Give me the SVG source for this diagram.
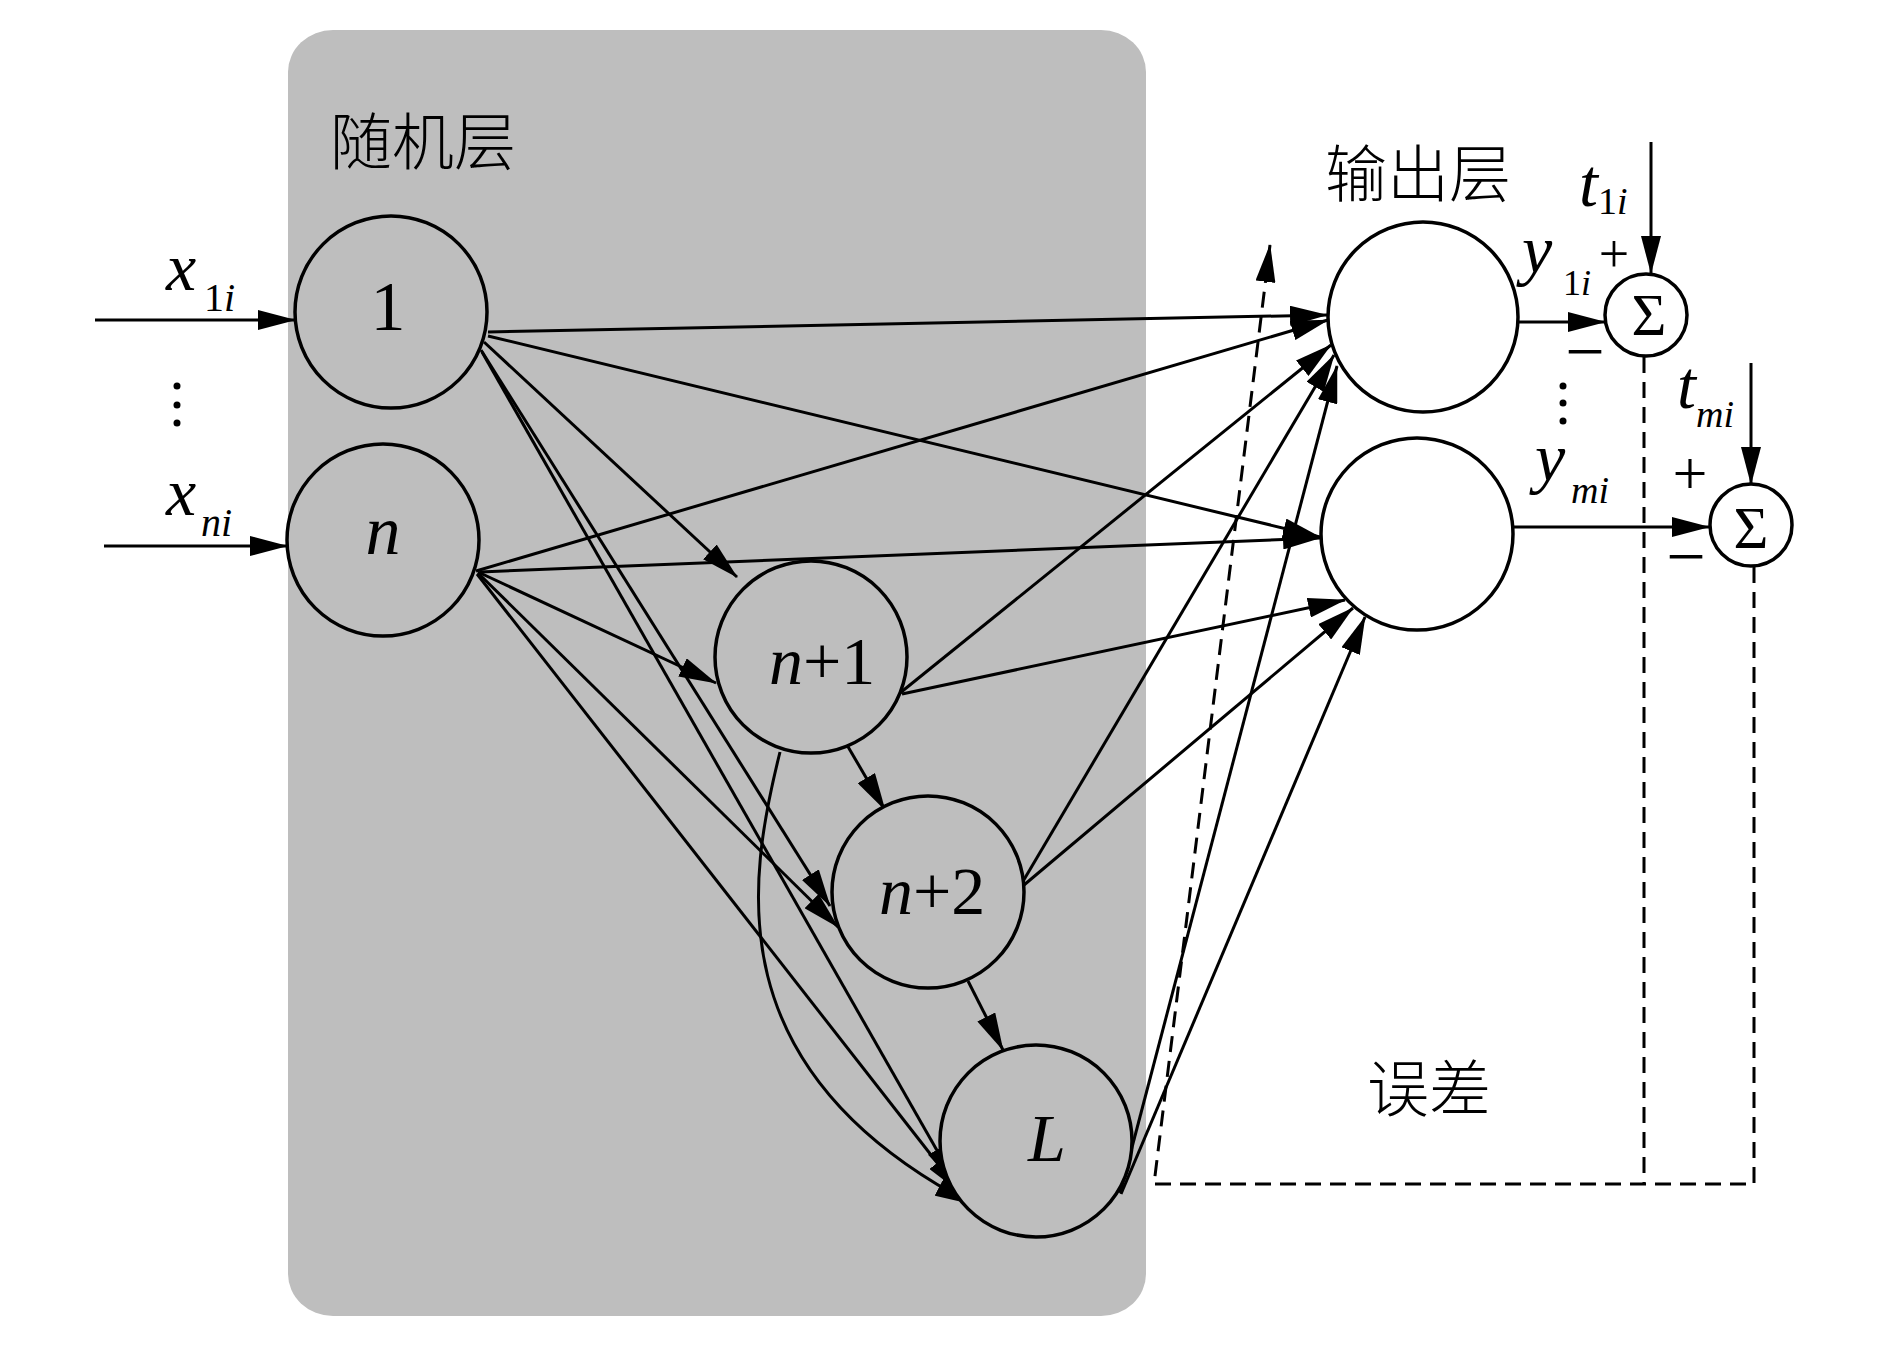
<svg xmlns="http://www.w3.org/2000/svg" width="1890" height="1346" viewBox="0 0 1890 1346">
<defs>
<marker id="ah" viewBox="0 0 38 20" markerWidth="38" markerHeight="20" refX="37" refY="10" orient="auto" markerUnits="userSpaceOnUse">
<path d="M0,0 L38,10 L0,20 Z" fill="#000"/>
</marker>
<style>
.ln{fill:none;stroke:#000;stroke-width:3;marker-end:url(#ah)}
.ds{fill:none;stroke:#000;stroke-width:3;stroke-dasharray:16 9}
.hn{fill:#bebebe;stroke:#000;stroke-width:3.5}
.on{fill:#fff;stroke:#000;stroke-width:3.5}
.cj{font-family:"Noto Sans CJK SC",sans-serif;font-size:62px;font-weight:300;fill:#000}
.mt{font-family:"Liberation Serif","Times New Roman",serif;fill:#000}
.it{font-style:italic}
</style>
</defs>
<rect x="0" y="0" width="1890" height="1346" fill="#fff"/>
<rect id="random-layer" x="288" y="30" width="858" height="1286" rx="45" ry="42" fill="#bebebe"/>
<text class="cj" x="330" y="165">随机层</text>
<text class="cj" x="1325" y="197">输出层</text>
<text class="cj" x="1367" y="1112">误差</text>

<g id="connectors">
<path class="ln" d="M95,320 L295,320"/>
<path class="ln" d="M104,546 L287,546"/>
<path class="ln" d="M488,332 L1327,315"/>
<path class="ln" d="M488,336 L1320,537"/>
<path class="ln" d="M484,342 L737,577"/>
<path class="ln" d="M481,350 L830,906"/>
<path class="ln" d="M482,352 L955,1182"/>
<path class="ln" d="M476,571 L1328,320"/>
<path class="ln" d="M480,572 L1320,538"/>
<path class="ln" d="M478,572 L716,683"/>
<path class="ln" d="M478,573 L838,927"/>
<path class="ln" d="M477,574 L960,1192"/>
<path class="ln" d="M900,693 L1331,345"/>
<path class="ln" d="M902,694 L1345,600"/>
<path class="ln" d="M847,745 L885,810"/>
<path class="ln" d="M780,752 C748,880 715,1070 972,1204"/>
<path class="ln" d="M1022,883 L1334,355"/>
<path class="ln" d="M1024,885 L1353,608"/>
<path class="ln" d="M968,981 L1003,1050"/>
<path class="ln" d="M1120,1193 L1337,366"/>
<path class="ln" d="M1121,1194 L1365,617"/>
<path class="ln" d="M1518,322 L1605,322"/>
<path class="ln" d="M1513,527 L1709,527"/>
<path class="ln" d="M1651,142 L1651,273"/>
<path class="ln" d="M1751,363 L1751,484"/>
<path class="ds" d="M1644,357 L1644,1184"/>
<path class="ds" d="M1754,567 L1754,1184 L1154,1184 L1270,245" marker-end="url(#ah)"/>
</g>

<g id="node-1"><circle class="hn" cx="391" cy="312" r="96"/><text class="mt" x="388" y="330" font-size="70" text-anchor="middle">1</text></g>
<g id="node-n"><circle class="hn" cx="383" cy="540" r="96"/><text class="mt it" x="383" y="554" font-size="70" text-anchor="middle">n</text></g>
<g id="node-n1"><circle class="hn" cx="811" cy="657" r="96"/><text class="mt" x="769" y="684" font-size="68"><tspan class="it">n</tspan>+1</text></g>
<g id="node-n2"><circle class="hn" cx="928" cy="892" r="96"/><text class="mt" x="879" y="914" font-size="68"><tspan class="it">n</tspan>+2</text></g>
<g id="node-L"><circle class="hn" cx="1036" cy="1141" r="96"/><text class="mt it" x="1028" y="1161" font-size="68">L</text></g>
<g id="out-1"><circle class="on" cx="1423" cy="317" r="95"/></g>
<g id="out-m"><circle class="on" cx="1417" cy="534" r="96"/></g>
<g id="sum-1"><circle class="on" cx="1646" cy="315" r="41"/><text class="mt" x="1649" y="335" font-size="60" text-anchor="middle">Σ</text></g>
<g id="sum-m"><circle class="on" cx="1751" cy="525" r="41"/><text class="mt" x="1751" y="548" font-size="60" text-anchor="middle">Σ</text></g>

<g id="labels">
<text class="mt it" x="166" y="290" font-size="68">x</text>
<text class="mt" x="204" y="311" font-size="40">1<tspan class="it">i</tspan></text>
<text class="mt it" x="166" y="515" font-size="68">x</text>
<text class="mt it" x="201" y="536" font-size="40">ni</text>
<text class="mt it" x="1579" y="206" font-size="68">t</text>
<text class="mt" x="1598" y="214" font-size="38">1<tspan class="it">i</tspan></text>
<text class="mt it" x="1677" y="408" font-size="68">t</text>
<text class="mt it" x="1696" y="427" font-size="38">mi</text>
<text class="mt it" x="1522" y="273" font-size="68">y</text>
<text class="mt" x="1563" y="295" font-size="36">1<tspan class="it">i</tspan></text>
<text class="mt it" x="1535" y="481" font-size="68">y</text>
<text class="mt it" x="1571" y="503" font-size="38">mi</text>
<text class="mt" x="1614" y="272" font-size="54" text-anchor="middle">+</text>
<text class="mt" x="1690" y="494" font-size="62" text-anchor="middle">+</text>
<text class="mt" x="1585" y="375" font-size="70" text-anchor="middle">−</text>
<text class="mt" x="1686" y="580" font-size="70" text-anchor="middle">−</text>
<circle cx="177" cy="386" r="3.5"/><circle cx="177" cy="405" r="3.5"/><circle cx="177" cy="423" r="3.5"/>
<circle cx="1563" cy="386" r="3.5"/><circle cx="1563" cy="403" r="3.5"/><circle cx="1563" cy="421" r="3.5"/>
</g>
</svg>
